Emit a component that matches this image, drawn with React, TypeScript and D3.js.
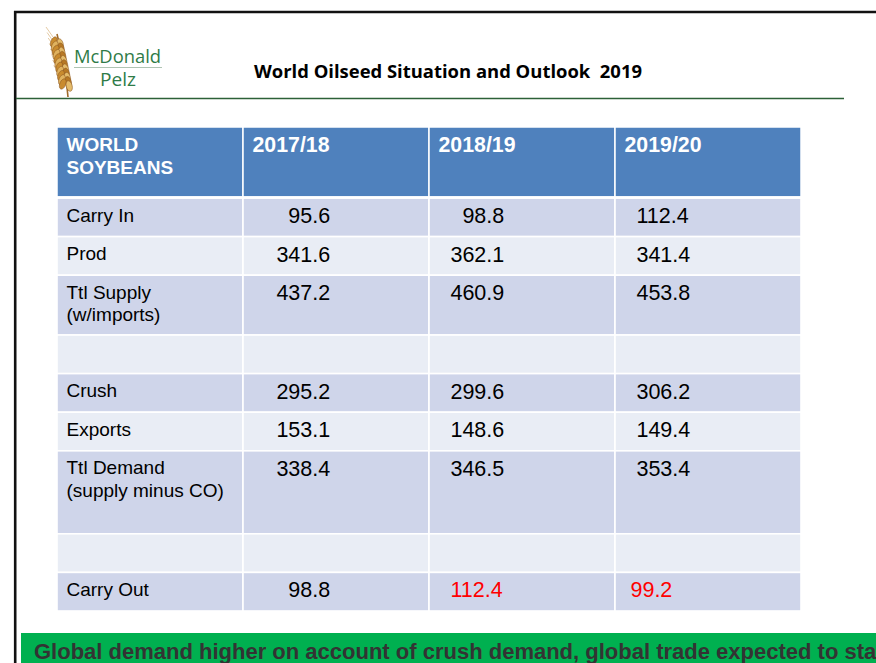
import React from 'react';
import * as d3 from 'd3';

// ---- Data ----
const headerLabel = ['WORLD', 'SOYBEANS'];
const years = ['2017/18', '2018/19', '2019/20'];
const rowLabels: string[][] = [
  ['Carry In'],
  ['Prod'],
  ['Ttl Supply', '(w/imports)'],
  [],
  ['Crush'],
  ['Exports'],
  ['Ttl Demand', '(supply minus CO)'],
  [],
  ['Carry Out'],
];
const v2017 = [95.6, 341.6, 437.2, null, 295.2, 153.1, 338.4, null, 98.8];
const v2018 = [98.8, 362.1, 460.9, null, 299.6, 148.6, 346.5, null, 112.4];
const v2019 = [112.4, 341.4, 453.8, null, 306.2, 149.4, 353.4, null, 99.2];
// relative row heights (text lines in each row of the source table)
const rowSpans = [1, 1, 1.55, 1, 1, 1, 2.15, 1, 1];
// leading blanks typed in the source cells
const leadingSpaces = [
  [6, 4, 2], [4, 2, 2], [4, 2, 2], [0, 0, 0], [4, 2, 2],
  [4, 2, 2], [4, 2, 2], [0, 0, 0], [6, 2, 1],
];
const redCells = ['8-1', '8-2'];
const title = 'World Oilseed Situation and Outlook  2019';
const banner = 'Global demand higher on account of crush demand, global trade expected to stay';
const logoTop = 'McDonald';
const logoBottom = 'Pelz';

const W = 876;
const H = 663;
const FONT = '"Liberation Sans", Arial, sans-serif';

function Wheat() {
  const stem = 'M68,97 Q66,70 57,34';
  const grains: JSX.Element[] = [];
  const n = 11;
  for (let i = 0; i < n; i++) {
    const t = i / (n - 1);
    const y = 42 + t * 42;
    const x = 57 + t * 9;
    const c1 = i % 2 === 0 ? '#c98b2e' : '#e0b25e';
    const c2 = i % 2 === 0 ? '#e4bb6a' : '#b77824';
    grains.push(
      <ellipse key={'l' + i} cx={x - 3.2} cy={y} rx={3} ry={5.4}
        transform={`rotate(22 ${x - 3.2} ${y})`} fill={c1} stroke="#8a5520" strokeWidth={0.5} />,
      <ellipse key={'r' + i} cx={x + 3.2} cy={y + 2} rx={3} ry={5.4}
        transform={`rotate(-15 ${x + 3.2} ${y + 2})`} fill={c2} stroke="#8a5520" strokeWidth={0.5} />,
    );
  }
  const awns: JSX.Element[] = [];
  for (let i = 0; i < 8; i++) {
    const y = 40 + i * 5.5;
    const x = 56 + i * 1.1;
    awns.push(<line key={'a' + i} x1={x - 3} y1={y - 3} x2={x - 10} y2={y - 13}
      stroke="#d2a667" strokeWidth={0.6} />);
  }
  return (
    <g>
      {awns}
      <path d={stem} fill="none" stroke="#a06a2a" strokeWidth={1.6} />
      {grains}
    </g>
  );
}

export default function App() {
  const cols = ['label', ...years];
  const x = d3.scaleBand<string>().domain(cols).range([57, 801]).paddingInner(0).paddingOuter(0);
  const cum = [0, ...Array.from(d3.cumsum(rowSpans))];
  const y = d3.scaleLinear().domain([0, d3.sum(rowSpans)]).range([198, 611]);
  const headerTop = 127;
  const headerBottom = 197;
  const series = [v2017, v2018, v2019];
  const fmt = d3.format('.1f');
  const labelSize = 19;
  const valueSize = 21.5;
  const lineH = 22.5;

  return (
    <svg width={W} height={H} style={{ position: 'absolute', left: 0, top: 0, background: '#fff' }}
      fontFamily={FONT}>
      <rect x={0} y={0} width={W} height={H} fill="#ffffff" />
      {/* slide frame */}
      <line x1={14} y1={12} x2={W} y2={12} stroke="#111" strokeWidth={2.6} />
      <line x1={15.2} y1={11} x2={15.2} y2={H} stroke="#111" strokeWidth={2.6} />
      <line x1={16} y1={98.5} x2={844} y2={98.5} stroke="#2c6137" strokeWidth={1.6} />

      {/* logo */}
      <Wheat />
      <text x={74} y={63} fontFamily='"Open Sans", sans-serif' fontSize={18.5} fill="#2f7b47"
        textLength={87} lengthAdjust="spacingAndGlyphs">{logoTop}</text>
      <line x1={74} y1={67.5} x2={162} y2={67.5} stroke="#9bb5a0" strokeWidth={0.8} />
      <text x={100} y={86} fontFamily='"Open Sans", sans-serif' fontSize={18.5} fill="#2f7b47"
        textLength={36} lengthAdjust="spacingAndGlyphs">{logoBottom}</text>

      {/* title */}
      <text x={254} y={78} fontFamily='"Open Sans", sans-serif' fontWeight="bold" fontSize={18.5}
        fill="#000" textLength={388} lengthAdjust="spacingAndGlyphs" style={{ whiteSpace: 'pre' }}>{title}</text>

      {/* header */}
      {cols.map((c) => (
        <rect key={'h' + c} x={x(c)!} y={headerTop} width={x.bandwidth()} height={headerBottom - headerTop}
          fill="#4f81bd" stroke="#ffffff" strokeWidth={1.5} />
      ))}
      {headerLabel.map((t, i) => (
        <text key={'hl' + i} x={x('label')! + 9.5} y={151 + i * 23} fontSize={labelSize} fontWeight="bold"
          fill="#fff">{t}</text>
      ))}
      {years.map((yr) => (
        <text key={'hy' + yr} x={x(yr)! + 9.5} y={152} fontSize={21.3} fontWeight="bold" fill="#fff">{yr}</text>
      ))}

      {/* body rows */}
      {rowLabels.map((lab, r) => {
        const top = y(cum[r]);
        const bot = y(cum[r + 1]);
        const fill = r % 2 === 0 ? '#cfd5ea' : '#e9edf5';
        return (
          <g key={'r' + r}>
            {cols.map((c) => (
              <rect key={c} x={x(c)!} y={top} width={x.bandwidth()} height={bot - top} fill={fill}
                stroke="#ffffff" strokeWidth={1.6} />
            ))}
            {lab.map((t, li) => (
              <text key={'l' + li} x={x('label')! + 9.5} y={top + 23.5 + li * lineH} fontSize={labelSize}
                fill="#000">{t}</text>
            ))}
            {series.map((s, ci) => {
              const v = s[r];
              if (v === null || v === undefined) return null;
              const red = redCells.includes(`${r}-${ci}`);
              return (
                <text key={'v' + ci} x={x(years[ci])! + 9.5} y={top + 25} fontSize={valueSize}
                  fill={red ? '#ff0000' : '#000'} style={{ whiteSpace: 'pre' }}>
                  {' '.repeat(leadingSpaces[r][ci]) + fmt(v)}
                </text>
              );
            })}
          </g>
        );
      })}
      {/* thick separator under header */}
      <line x1={57} y1={197.5} x2={801} y2={197.5} stroke="#ffffff" strokeWidth={2.5} />

      {/* banner */}
      <rect x={21} y={633} width={W - 21} height={H - 633} fill="#00b050" />
      <text x={34} y={658.5} fontSize={22} fontWeight="bold" fill="#333333">{banner}</text>
    </svg>
  );
}
